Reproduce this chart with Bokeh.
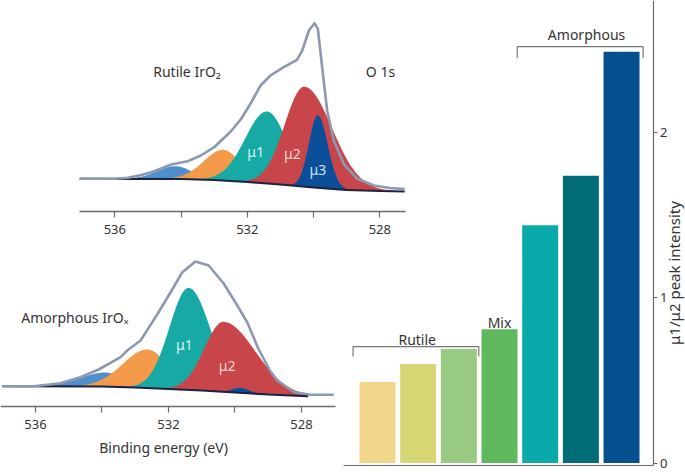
import numpy as np
from bokeh.plotting import figure
from bokeh.models import Range1d, LinearAxis, FixedTicker, ColumnDataSource
from bokeh.core.properties import value
from bokeh.embed import file_html
from bokeh.resources import INLINE

# ---------------- data ----------------
# bar chart: mu1/mu2 peak intensity ratio
bar_samples = ["Rutile a", "Rutile b", "Rutile c", "Mix", "Amorphous a", "Amorphous b", "Amorphous c"]
bar_ratio = [0.49, 0.60, 0.69, 0.81, 1.44, 1.74, 2.49]
bar_colors = ["#F2D68A", "#D6D774", "#98CA82", "#5DB95B", "#0AA9AA", "#006D77", "#05508F"]
ratio_ticks = [0, 1, 2]

energy_ticks = [536, 532, 528]
energy_minor_ticks = [534, 530]

# rutile IrO2, O 1s envelope (binding energy eV, intensity a.u.)
rut_env_E = [537.06, 536.5, 536.0, 535.6, 535.2, 534.9, 534.6, 534.3, 533.8, 533.4, 533.0,
             532.5, 532.2, 531.9, 531.6, 531.3, 530.9, 530.5, 530.34, 530.14, 529.97, 529.87,
             529.74, 529.59, 529.39, 529.09, 528.68, 528.18, 527.7, 527.25]
rut_env_I = [11.7, 11.7, 11.8, 12.7, 15.5, 18.3, 22.0, 26.0, 29.3, 35.0, 43.3,
             59.0, 71.0, 87.0, 105.0, 115.0, 123.3, 130.7, 140.0, 160.0, 167.3, 161.7,
             123.3, 80.0, 50.0, 26.7, 11.7, 5.0, 2.5, 1.5]
rut_bg_E = [537.06, 534.0, 533.0, 532.0, 531.0, 530.0, 529.0, 528.0, 527.25]
rut_bg_I = [11.7, 11.5, 10.5, 8.5, 6.0, 3.0, 0.5, -0.5, -1.0]
# fitted components: centre, height, width (high-BE side), width (low-BE side)
rut_pk_center = [534.17, 532.71, 531.40, 530.27, 529.87]
rut_pk_height = [12.8, 30.7, 72.0, 100.0, 72.5]
rut_pk_wL = [0.55, 0.60, 0.66, 0.60, 0.27]
rut_pk_wR = [0.50, 0.50, 0.60, 0.83, 0.30]

# amorphous IrOx
amo_env_E = [537.0, 536.05, 535.25, 534.65, 534.1, 533.44, 533.24, 532.84, 532.34, 531.94,
             531.59, 531.19, 530.79, 530.34, 529.93, 529.63, 529.3, 528.95, 528.73, 528.23,
             527.73, 527.03]
amo_env_I = [10.3, 10.3, 13.3, 19.3, 27.0, 39.3, 46.0, 56.0, 82.0, 104.0,
             124.0, 135.0, 131.0, 113.0, 91.0, 74.0, 48.0, 26.0, 16.0, 4.5,
             1.7, 1.7]
amo_bg_E = [537.0, 534.0, 533.0, 532.0, 531.0, 530.0, 529.0, 528.0, 527.8]
amo_bg_I = [10.3, 10.0, 9.0, 7.5, 6.0, 4.0, 2.0, 0.5, 0.3]
amo_pk_center = [533.9, 532.62, 531.39, 530.34, 529.83]
amo_pk_height = [14.0, 38.5, 102.0, 70.0, 5.0]
amo_pk_wL = [0.75, 0.75, 0.58, 0.58, 0.25]
amo_pk_wR = [0.60, 0.60, 0.65, 0.95, 0.25]

pk_colors = ["#4F8FCB", "#F39A4A", "#17A9A3", "#C8464A", "#0B4F9A"]
env_color = "#8B99B2"
bg_color = "#1B2340"
txt_color = "#333333"
FONT = "Noto Sans"

# ---------------- figure ----------------
W, H = 685, 472
p = figure(width=W, height=H, output_backend="svg", toolbar_location=None,
           x_axis_type=None, y_axis_type=None,
           x_range=Range1d(0, 685), y_range=Range1d(472, 0),
           min_border=0, min_border_left=0, min_border_right=0,
           min_border_top=0, min_border_bottom=0, outline_line_color=None)
p.background_fill_color = "white"

p.extra_x_ranges = {
    "e1": Range1d(539.4506, 518.7713),
    "e2": Range1d(537.0526, 516.4511),
    "b": Range1d(-9.27, 7.573),
}
p.extra_y_ranges = {
    "i1": Range1d(-282, 190),
    "i2": Range1d(-76, 396),
    "v": Range1d(-0.0575, 2.8006),
}


def panel(env_E, env_I, bg_E, bg_I, centers, heights, wL, wR, xr, yr):
    e_hi, e_lo = max(bg_E), min(bg_E)
    grid = np.linspace(e_lo, e_hi, 600)
    base = np.interp(grid, bg_E[::-1], bg_I[::-1])
    for c, h, l, r, col in zip(centers, heights, wL, wR, pk_colors):
        sig = np.where(grid > c, l, r)
        g = h * np.exp(-0.5 * ((grid - c) / sig) ** 2)
        p.varea(x=grid, y1=base, y2=base + g, fill_color=col,
                x_range_name=xr, y_range_name=yr)
    p.line(bg_E, bg_I, line_color=bg_color, line_width=2.2,
           x_range_name=xr, y_range_name=yr)
    p.line(env_E, env_I, line_color=env_color, line_width=2.6, line_join="round",
           x_range_name=xr, y_range_name=yr)


panel(rut_env_E, rut_env_I, rut_bg_E, rut_bg_I, rut_pk_center, rut_pk_height,
      rut_pk_wL, rut_pk_wR, "e1", "i1")
panel(amo_env_E, amo_env_I, amo_bg_E, amo_bg_I, amo_pk_center, amo_pk_height,
      amo_pk_wL, amo_pk_wR, "e2", "i2")


def energy_axis(xr, yr, loc, bounds):
    ax = LinearAxis(x_range_name=xr, y_range_name=yr, fixed_location=loc, bounds=bounds,
                    ticker=FixedTicker(ticks=energy_ticks, minor_ticks=energy_minor_ticks))
    ax.axis_line_color = "#6b6b6b"
    ax.axis_line_width = 1.4
    ax.major_tick_in = 0
    ax.major_tick_out = 6
    ax.minor_tick_in = 0
    ax.minor_tick_out = 6
    ax.major_tick_line_color = "#6b6b6b"
    ax.minor_tick_line_color = "#6b6b6b"
    ax.major_tick_line_width = 1.2
    ax.minor_tick_line_width = 1.2
    ax.major_label_text_font = FONT
    ax.major_label_text_font_size = "13px"
    ax.major_label_text_color = txt_color
    ax.major_label_standoff = 7
    p.add_layout(ax, "below")


energy_axis("e1", "i1", -21, (527.22, 537.06))
energy_axis("e2", "i2", -10, (526.98, 537.05))

# spectrum labels
p.text(x=[534.84], y=[119], text=["Rutile IrO₂"], text_font=value(FONT), text_font_size="14px",
       text_color=txt_color, text_align="left", text_baseline="middle",
       x_range_name="e1", y_range_name="i1")
p.text(x=[527.98], y=[119], text=["O 1s"], text_font=value(FONT), text_font_size="14px",
       text_color=txt_color, text_align="center", text_baseline="middle",
       x_range_name="e1", y_range_name="i1")
p.text(x=[531.745, 530.64, 529.87], y=[39.3, 37.3, 20.7], text=["μ1", "μ2", "μ3"],
       text_font=value(FONT), text_font_size="14px",
       text_color=["#D4F3F1", "#F9D4D4", "#CFE0F5"], text_align="center", text_baseline="middle",
       x_range_name="e1", y_range_name="i1")
p.text(x=[536.43], y=[79], text=["Amorphous IrOₓ"], text_font=value(FONT), text_font_size="14px",
       text_color=txt_color, text_align="left", text_baseline="middle",
       x_range_name="e2", y_range_name="i2")
p.text(x=[531.52, 530.235], y=[52, 31], text=["μ1", "μ2"],
       text_font=value(FONT), text_font_size="14px",
       text_color=["#D4F3F1", "#F9D4D4"], text_align="center", text_baseline="middle",
       x_range_name="e2", y_range_name="i2")
p.text(x=[532.15], y=[-51], text=["Binding energy (eV)"], text_font=value(FONT),
       text_font_size="14px", text_color=txt_color, text_align="center", text_baseline="middle",
       x_range_name="e2", y_range_name="i2")

# ---------------- bar chart ----------------
src = ColumnDataSource(dict(idx=list(range(len(bar_samples))), name=bar_samples,
                            ratio=bar_ratio, color=bar_colors))
p.vbar(x="idx", top="ratio", bottom=0, width=0.885, fill_color="color", line_color=None,
       source=src, x_range_name="b", y_range_name="v")

# baseline of bar chart
bax = LinearAxis(x_range_name="b", y_range_name="v", fixed_location=-0.014, bounds=(-0.84, 6.776),
                 ticker=FixedTicker(ticks=[], minor_ticks=[]))
bax.axis_line_color = "#6b6b6b"
bax.axis_line_width = 1.2
bax.major_tick_out = 0
bax.minor_tick_out = 0
bax.major_label_text_font_size = "0px"
p.add_layout(bax, "below")

rax = LinearAxis(x_range_name="b", y_range_name="v", fixed_location=6.776, bounds=(-0.014, 2.8006),
                 ticker=FixedTicker(ticks=ratio_ticks, minor_ticks=[]))
rax.axis_line_color = "#6b6b6b"
rax.axis_line_width = 1.2
rax.major_tick_in = 0
rax.major_tick_out = 4
rax.minor_tick_out = 0
rax.minor_tick_in = 0
rax.major_tick_line_color = "#6b6b6b"
rax.major_label_text_font = FONT
rax.major_label_text_font_size = "13px"
rax.major_label_text_color = txt_color
rax.major_label_standoff = 3
p.add_layout(rax, "right")

p.text(x=[7.29], y=[1.15], text=["μ1/μ2 peak intensity"], angle=np.pi / 2,
       text_font=value(FONT), text_font_size="15px", text_color=txt_color,
       text_align="center", text_baseline="middle", x_range_name="b", y_range_name="v")

# group brackets
p.line([-0.6, -0.6, 2.49, 2.49], [0.645, 0.705, 0.705, 0.645], line_color="#777777",
       line_width=1.2, x_range_name="b", y_range_name="v")
p.line([3.435, 3.435, 6.53, 6.53], [2.453, 2.521, 2.521, 2.453], line_color="#777777",
       line_width=1.2, x_range_name="b", y_range_name="v")
p.text(x=[0.976, 3.0, 5.14], y=[0.745, 0.85, 2.595], text=["Rutile", "Mix", "Amorphous"],
       text_font=value(FONT), text_font_size="14px", text_color=txt_color,
       text_align="center", text_baseline="middle", x_range_name="b", y_range_name="v")

open("out.html", "w").write(file_html(p, INLINE))
